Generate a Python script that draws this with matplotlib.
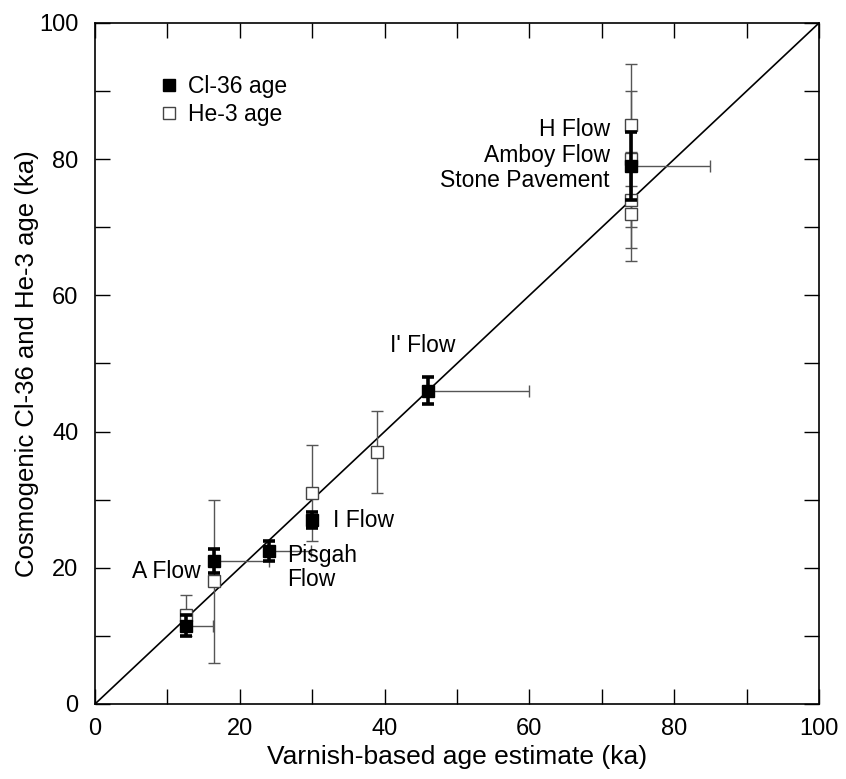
import matplotlib
matplotlib.use("Agg")
import matplotlib.pyplot as plt
from matplotlib.lines import Line2D

plt.rcParams['font.family'] = ['Liberation Sans', 'DejaVu Sans']

# Cl-36 ages (filled squares)
cl_x = [12.5, 16.4, 24.0, 30.0, 46.0, 74.0]
cl_y = [11.5, 21.0, 22.5, 27.0, 46.0, 79.0]
cl_yerr = [1.5, 1.7, 1.5, 1.2, 2.0, 5.0]
cl_xerr_plus = [3.8, 7.6, 5.8, 0.0, 14.0, 11.0]

# He-3 ages (open squares)
he_x = [12.5, 16.4, 30.0, 39.0, 74.0, 74.0, 74.0, 74.0]
he_y = [13.0, 18.0, 31.0, 37.0, 85.0, 80.0, 74.0, 72.0]
he_yerr = [3.0, 12.0, 7.0, 6.0, 9.0, 10.0, 7.0, 7.0]

ticks = [0, 20, 40, 60, 80, 100]

fig = plt.figure(figsize=(8.46, 7.79), dpi=100)
ax = fig.add_axes([0.1123, 0.0963, 0.8558, 0.8742])

# 1:1 line
ax.plot([0, 100], [0, 100], color='black', lw=1.2, zorder=2)

# He-3 error bars and markers
ax.errorbar(he_x, he_y, yerr=he_yerr, fmt='none', ecolor='#555555',
            elinewidth=1.0, capsize=4.5, capthick=1.0, zorder=3)
# Cl-36 horizontal error bars (varnish age)
nz = [i for i, v in enumerate(cl_xerr_plus) if v > 0]
ax.errorbar([cl_x[i] for i in nz], [cl_y[i] for i in nz],
            xerr=[[0.0] * len(nz), [cl_xerr_plus[i] for i in nz]],
            fmt='none', ecolor='#555555', elinewidth=1.0, capsize=4.5,
            capthick=1.0, zorder=3)
ax.plot(he_x, he_y, linestyle='none', marker='s', markersize=8,
        markerfacecolor='white', markeredgecolor='#444444',
        markeredgewidth=1.0, zorder=4)
# Cl-36 error bars and markers
ax.errorbar(cl_x, cl_y, yerr=cl_yerr, fmt='none', ecolor='black',
            elinewidth=2.6, capsize=4.5, capthick=2.6, zorder=5)
ax.plot(cl_x, cl_y, linestyle='none', marker='s', markersize=8,
        markerfacecolor='black', markeredgecolor='black', zorder=6)

ax.set_xlim(0, 100)
ax.set_ylim(0, 100)
ax.set_xticks(ticks)
ax.set_yticks(ticks)
ax.set_xticks(range(0, 101, 10), minor=True)
ax.set_yticks(range(0, 101, 10), minor=True)
ax.tick_params(which='both', direction='in', top=True, right=True,
               length=10.5, width=1.0, labelsize=17)
ax.tick_params(axis='x', which='major', pad=10)
ax.tick_params(axis='y', which='major', pad=12)
for s in ax.spines.values():
    s.set_linewidth(1.2)

ax.set_xlabel('Varnish-based age estimate (ka)', fontsize=19, labelpad=4)
ax.set_ylabel('Cosmogenic Cl-36 and He-3 age (ka)', fontsize=18.5, labelpad=0)

fs = 16.5
ax.text(71.1, 84.3, 'H Flow', ha='right', va='center', fontsize=fs)
ax.text(71.1, 80.6, 'Amboy Flow', ha='right', va='center', fontsize=fs)
ax.text(71.1, 76.9, 'Stone Pavement', ha='right', va='center', fontsize=fs)
ax.text(45.3, 52.7, "I' Flow", ha='center', va='center', fontsize=fs)
ax.text(32.9, 26.9, 'I Flow', ha='left', va='center', fontsize=fs)
ax.text(26.5, 20.0, 'Pisgah\nFlow', ha='left', va='center', fontsize=fs,
        linespacing=1.05)
ax.text(14.6, 19.4, 'A Flow', ha='right', va='center', fontsize=fs)

handles = [
    Line2D([], [], linestyle='none', marker='s', markersize=8,
           markerfacecolor='black', markeredgecolor='black'),
    Line2D([], [], linestyle='none', marker='s', markersize=8,
           markerfacecolor='white', markeredgecolor='#444444'),
]
ax.legend(handles, ['Cl-36 age', 'He-3 age'], loc='upper left',
          bbox_to_anchor=(0.089, 0.924), frameon=False, fontsize=16.5,
          handlelength=0.8, handletextpad=0.45, borderpad=0,
          borderaxespad=0, labelspacing=0.22)

fig.savefig('out.png', dpi=100)
